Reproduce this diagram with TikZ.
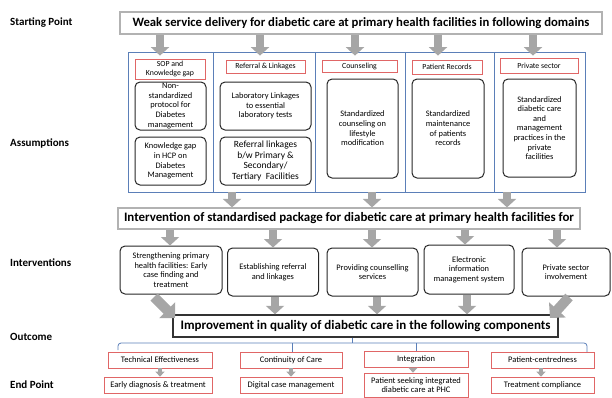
\documentclass[tikz,border=0pt]{standalone}
\usepackage{fontspec}
\setmainfont{Carlito}
\usetikzlibrary{arrows.meta}
\definecolor{arrgray}{HTML}{A6A6A6}
\definecolor{hdrred}{HTML}{E06666}
\definecolor{frameblue}{HTML}{5B7FB8}
\begin{document}
\begin{tikzpicture}[x=1pt,y=-1pt,
  lbl/.style={anchor=west,inner sep=0pt,font=\fontsize{11}{12}\selectfont\bfseries},
  bar/.style={draw=gray!60,line width=1.2pt,inner sep=0pt,font=\fontsize{12.7}{13}\selectfont\bfseries},
  hdr/.style={draw=hdrred,line width=0.7pt,inner sep=0pt,align=center,font=\fontsize{7.8}{8.6}\selectfont},
  rbox/.style={draw=black!85,line width=1pt,rounded corners=5pt,inner sep=0pt,align=center,font=\fontsize{8.4}{9.6}\selectfont},
  obox/.style={draw=hdrred,line width=0.7pt,inner sep=0pt,align=center,font=\fontsize{8.5}{9}\selectfont},
  blk/.style={draw=arrgray,line width=7.5pt,-{Triangle[width=18pt,length=8.5pt]}},
  fblk/.style={draw=arrgray,line width=10pt,-{Triangle[width=22pt,length=11pt]}},
  sblk/.style={draw=arrgray,line width=3.5pt,-{Triangle[width=9pt,length=5pt]}},
  bline/.style={draw=frameblue,line width=0.8pt},
]
\useasboundingbox (0,0) rectangle (612,397);

% left labels
\node[lbl] (lsp) at (10,23) {Starting Point};
\node[lbl] (las) at (10,143) {Assumptions};
\node[lbl] (lin) at (10,263) {Interventions};
\node[lbl] (lou) at (10,337) {Outcome};
\node[lbl] (lep) at (10,385) {End Point};

% starting point
\node[bar,minimum width=482pt,minimum height=22pt] (top) at (361,23)
  {Weak service delivery for diabetic care at primary health facilities in following domains};

% assumptions frame
\node[bline,minimum width=457pt,minimum height=140pt,inner sep=0pt] (frame) at (356.5,122) {};
\foreach \x in {213,315,405,494} \draw[bline] (\x,52) -- (\x,192);

\node[hdr,minimum width=70pt,minimum height=20pt] (h1) at (170,69) {SOP and\\Knowledge gap};
\node[hdr,minimum width=79pt,minimum height=13pt] (h2) at (265.5,66.5) {Referral \& Linkages};
\node[hdr,minimum width=75pt,minimum height=12pt] (h3) at (359.5,66) {Counseling};
\node[hdr,minimum width=70pt,minimum height=14pt] (h4) at (447,67) {Patient Records};
\node[hdr,minimum width=78pt,minimum height=15pt] (h5) at (539,65.5) {Private sector};

\node[rbox,minimum width=71pt,minimum height=48pt] (b11) at (170.5,106)
  {Non-\\standardized\\protocol for\\Diabetes\\management};
\node[rbox,minimum width=71pt,minimum height=48pt] (b12) at (170.5,161)
  {Knowledge gap\\in HCP on\\Diabetes\\Management};
\node[rbox,minimum width=91pt,minimum height=48pt] (b21) at (265.5,106)
  {Laboratory Linkages\\to essential\\laboratory tests};
\node[rbox,minimum width=91pt,minimum height=48pt,font=\fontsize{9.5}{10.7}\selectfont] (b22) at (265.5,161)
  {Referral linkages\\b/w Primary \&\\Secondary/\\Tertiary\ \ Facilities};
\node[rbox,minimum width=71pt,minimum height=99pt] (b3) at (362.5,128.5)
  {Standardized\\counseling on\\lifestyle\\modification};
\node[rbox,minimum width=72pt,minimum height=99pt] (b4) at (448,128.5)
  {Standardized\\maintenance\\of patients\\records};
\node[rbox,minimum width=73pt,minimum height=98pt] (b5) at (539.5,128)
  {Standardized\\diabetic care\\and\\management\\practices in the\\private\\facilities};

\foreach \x/\n in {160/1,260/2,355/3,438/4,533/5} \coordinate (ta\n) at (\x,0);
\foreach \n in {1,...,5} \draw[blk,shorten >=-4pt] (top.south -| ta\n) -- (frame.north -| ta\n);

% intervention bar
\node[bar,minimum width=462pt,minimum height=21pt,font=\fontsize{12.9}{13}\selectfont\bfseries] (ib) at (349,218.5)
  {Intervention of standardised package for diabetic care at primary health facilities for};
\foreach \x/\n in {232/1,372/2,507/3} \coordinate (fa\n) at (\x,0);
\foreach \n in {1,2,3} \draw[blk] (frame.south -| fa\n) -- (ib.north -| fa\n);

% interventions
\node[rbox,minimum width=102pt,minimum height=48pt] (i1) at (171,270)
  {Strengthening primary\\health facilities: Early\\case finding and\\treatment};
\node[rbox,minimum width=91pt,minimum height=48pt] (i2) at (273,272)
  {Establishing referral\\and linkages};
\node[rbox,minimum width=91pt,minimum height=48pt] (i3) at (372.5,272)
  {Providing counselling\\services};
\node[rbox,minimum width=90pt,minimum height=49pt] (i4) at (469,269.5)
  {Electronic\\information\\management system};
\node[rbox,minimum width=88pt,minimum height=48pt] (i5) at (566,272)
  {Private sector\\involvement};

\foreach \x/\n in {170/1,273/2,372/3,465/4,557/5} \coordinate (ia\n) at (\x,0);
\foreach \n in {1,...,5} \draw[blk] (ib.south -| ia\n) -- (i\n.north -| ia\n);

% outcome bar
\node[bar,draw=black!80,line width=1.4pt,minimum width=385pt,minimum height=22pt,
  font=\fontsize{13}{14}\selectfont\bfseries] (imp) at (365.5,326)
  {Improvement in quality of diabetic care in the following components};

\foreach \x/\n in {275/2,377/3,467/4} \coordinate (oa\n) at (\x,0);
\foreach \n in {2,3,4} \draw[blk] (i\n.south -| oa\n) -- (imp.north -| oa\n);
\coordinate (d1s) at (154,297);
\coordinate (d1e) at (175,318);
\coordinate (d5s) at (569,297);
\coordinate (d5e) at (550,318);
\draw[fblk] (d1s) -- (d1e);
\draw[fblk] (d5s) -- (d5e);

% outcome components
\node[obox,minimum width=104pt,minimum height=16pt] (o1) at (160,360) {Technical Effectiveness};
\node[obox,minimum width=102pt,minimum height=16pt] (o2) at (291,360) {Continuity of Care};
\node[obox,minimum width=104pt,minimum height=16pt] (o3) at (416,359.5) {Integration};
\node[obox,minimum width=103pt,minimum height=16pt] (o4) at (542.5,360) {Patient-centredness};

\coordinate (bl) at (118,343);
\coordinate (br) at (587,343);
\draw[bline,rounded corners=3pt] (118,350) -- (bl) -- (br) -- (587,352);
\draw[bline] (imp.south -| 352,0) -- (352,343);
\draw[bline] (292,343) -- (o2.north -| 292,0);
\draw[bline] (416,343) -- (o3.north);

% end points
\node[obox,minimum width=108pt,minimum height=16pt] (e1) at (158,385) {Early diagnosis \& treatment};
\node[obox,minimum width=102pt,minimum height=16pt] (e2) at (291,385) {Digital case management};
\node[obox,minimum width=104pt,minimum height=24pt] (e3) at (416,385) {Patient seeking integrated\\diabetic care at PHC};
\node[obox,minimum width=103pt,minimum height=16pt] (e4) at (542.5,385) {Treatment compliance};

\draw[sblk] (o1.south) -- (o1.south |- e1.north);
\draw[sblk] (o2.south) -- (e2.north);
\draw[sblk] (o3.south -| 413,0) -- (e3.north -| 413,0);
\draw[sblk] (o4.south -| 541,0) -- (e4.north -| 541,0);
\end{tikzpicture}
\end{document}
